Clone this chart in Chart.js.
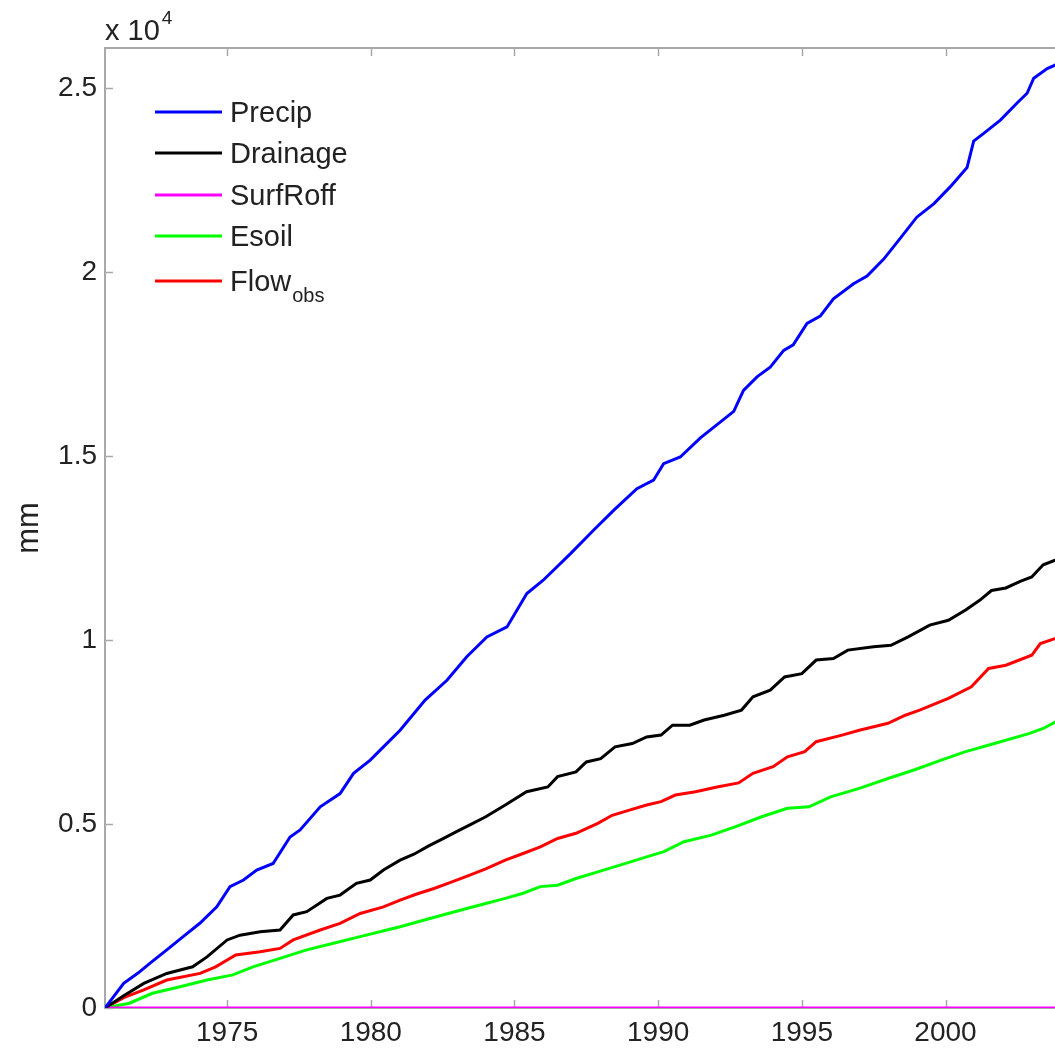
<!DOCTYPE html>
<html>
<head>
<meta charset="utf-8">
<script src="https://cdn.jsdelivr.net/npm/chart.js@4/dist/chart.umd.min.js"></script>
<style>
  html, body { margin: 0; padding: 0; background: #ffffff; overflow: hidden; }
  #wrap { position: relative; width: 1100px; height: 1049px; }
</style>
</head>
<body>
<div id="wrap"><canvas id="c" width="1100" height="1049"></canvas></div>
<script>
// Cumulative water balance terms (mm), water years from Oct 1970
const seriesNames = ['Precip', 'Drainage', 'SurfRoff', 'Esoil', 'Flow_obs'];
const seriesColors = ['#0000ff', '#000000', '#ff00ff', '#00ff00', '#ff0000'];

const precipYears = [1970.75, 1971.4, 1971.9, 1972.32, 1972.9, 1973.47, 1974.06, 1974.64, 1975.1, 1975.57,
  1976.03, 1976.6, 1977.19, 1977.54, 1978.24, 1978.93, 1979.4, 1979.98, 1980.44, 1981.02,
  1981.89, 1982.65, 1983.34, 1984.04, 1984.74, 1985.43, 1986.0, 1986.96, 1987.75, 1988.45,
  1989.26, 1989.84, 1990.19, 1990.77, 1991.47, 1992.05, 1992.63, 1992.97, 1993.44, 1993.9,
  1994.37, 1994.7, 1995.18, 1995.64, 1996.1, 1996.8, 1997.27, 1997.85, 1998.43, 1999.0,
  1999.6, 2000.17, 2000.75, 2000.98, 2001.33, 2001.91, 2002.5, 2002.84, 2003.07, 2003.54,
  2003.83, 2004.3, 2004.75];
const precipMm = [0, 670, 950, 1220, 1580, 1940, 2310, 2750, 3300, 3480,
  3750, 3930, 4650, 4840, 5470, 5830, 6380, 6740, 7100, 7550,
  8370, 8910, 9550, 10090, 10360, 11270, 11630, 12360, 12990, 13530,
  14120, 14350, 14800, 14980, 15500, 15860, 16220, 16790, 17160, 17420,
  17880, 18030, 18610, 18810, 19280, 19690, 19900, 20360, 20930, 21500,
  21870, 22330, 22850, 23570, 23780, 24140, 24610, 24870, 25280, 25540,
  25640, 25900, 26100];

const drainageYears = [1970.75, 1971.4, 1972.1, 1972.9, 1973.8, 1974.3, 1975.0, 1975.45, 1976.15, 1976.84,
  1977.3, 1977.77, 1978.47, 1978.93, 1979.5, 1979.98, 1980.44, 1981.02, 1981.5, 1982.0,
  1982.5, 1983.0, 1983.5, 1984.0, 1984.68, 1985.42, 1986.16, 1986.5, 1987.14, 1987.5,
  1988.0, 1988.5, 1989.1, 1989.6, 1990.1, 1990.5, 1991.1, 1991.6, 1992.3, 1992.9,
  1993.3, 1993.9, 1994.4, 1995.0, 1995.5, 1996.1, 1996.6, 1997.5, 1998.1, 1998.7,
  1999.45, 2000.1, 2000.7, 2001.2, 2001.6, 2002.1, 2002.6, 2003.0, 2003.4, 2003.83,
  2004.75];
const drainageMm = [0, 330, 670, 940, 1120, 1390, 1850, 1980, 2070, 2120,
  2530, 2620, 2980, 3070, 3390, 3480, 3750, 4020, 4180, 4400,
  4600, 4800, 5000, 5200, 5520, 5880, 6010, 6290, 6420, 6690,
  6780, 7100, 7190, 7370, 7420, 7690, 7690, 7830, 7960, 8100,
  8460, 8640, 9000, 9090, 9460, 9500, 9730, 9820, 9860, 10090,
  10410, 10540, 10820, 11090, 11350, 11420, 11600, 11720, 12050, 12180,
  12300];

const surfRoffYears = [1970.75, 1980, 1990, 2000, 2004.75];
const surfRoffMm = [0, 0, 0, 0, 0];

const esoilYears = [1970.75, 1971.6, 1972.4, 1973.36, 1974.3, 1975.2, 1975.9, 1976.84, 1977.77, 1978.7,
  1979.63, 1980.56, 1981.02, 1981.8, 1982.6, 1983.4, 1984.0, 1984.68, 1985.3, 1985.9,
  1986.5, 1987.14, 1987.9, 1988.7, 1989.6, 1990.2, 1990.9, 1991.85, 1992.7, 1993.6,
  1994.5, 1995.25, 1996.0, 1997.0, 1998.0, 1998.9, 1999.85, 2000.7, 2001.7, 2002.9,
  2003.4, 2003.83, 2004.75];
const esoilMm = [0, 130, 400, 580, 760, 900, 1120, 1350, 1580, 1760,
  1940, 2120, 2210, 2380, 2550, 2720, 2840, 2980, 3120, 3300,
  3340, 3520, 3700, 3890, 4110, 4250, 4520, 4700, 4930, 5200,
  5430, 5470, 5740, 5970, 6240, 6470, 6740, 6970, 7190, 7460,
  7600, 7780, 7950];

const flowObsYears = [1970.75, 1971.4, 1972.1, 1972.9, 1974.06, 1974.6, 1975.3, 1976.15, 1976.84, 1977.3,
  1978.24, 1978.93, 1979.63, 1980.44, 1981.02, 1981.6, 1982.2, 1982.8, 1983.4, 1984.0,
  1984.68, 1985.3, 1985.9, 1986.5, 1987.14, 1987.9, 1988.4, 1989.0, 1989.6, 1990.1,
  1990.6, 1991.3, 1992.05, 1992.8, 1993.3, 1994.0, 1994.5, 1995.1, 1995.5, 1996.4,
  1997.0, 1998.0, 1998.6, 1999.1, 2000.1, 2000.9, 2001.5, 2002.1, 2003.0, 2003.3,
  2003.83, 2004.75];
const flowObsMm = [0, 280, 490, 760, 940, 1120, 1440, 1530, 1620, 1850,
  2120, 2300, 2570, 2750, 2930, 3100, 3250, 3420, 3600, 3780,
  4020, 4200, 4380, 4610, 4750, 5020, 5240, 5380, 5520, 5610,
  5790, 5880, 6010, 6120, 6380, 6560, 6830, 6970, 7240, 7420,
  7550, 7740, 7960, 8100, 8420, 8730, 9230, 9320, 9590, 9910,
  10050, 10150];

// Axis ticks
const xTickYears = [1975, 1980, 1985, 1990, 1995, 2000];
const yTickValues = [0, 5000, 10000, 15000, 20000, 25000];
const xRange = [1970.75, 2004.75];
const yRange = [0, 26100];

const toPoints = (xs, ys) => xs.map((x, i) => ({ x: x, y: ys[i] }));
const seriesData = [
  toPoints(precipYears, precipMm),
  toPoints(drainageYears, drainageMm),
  toPoints(surfRoffYears, surfRoffMm),
  toPoints(esoilYears, esoilMm),
  toPoints(flowObsYears, flowObsMm)
];

const FONT = '"Liberation Sans", Arial, Helvetica, sans-serif';
const AXIS_COLOR = '#a9a9a9';
const TEXT_COLOR = '#222222';

// Axes box with inward tick marks, drawn beneath the curves
const framePlugin = {
  id: 'frame',
  beforeDatasetsDraw(chart) {
    const { ctx, chartArea: a, scales } = chart;
    const tl = 8;
    ctx.save();
    ctx.strokeStyle = AXIS_COLOR;
    ctx.lineWidth = 2;
    ctx.beginPath();
    ctx.moveTo(a.left, a.top);
    ctx.lineTo(a.right, a.top);
    ctx.lineTo(a.right, a.bottom);
    ctx.lineTo(a.left, a.bottom);
    ctx.closePath();
    ctx.stroke();
    ctx.lineWidth = 1.5;
    ctx.beginPath();
    scales.x.ticks.forEach(t => {
      const px = Math.round(scales.x.getPixelForValue(t.value)) + 0.5;
      ctx.moveTo(px, a.bottom); ctx.lineTo(px, a.bottom - tl);
      ctx.moveTo(px, a.top); ctx.lineTo(px, a.top + tl);
    });
    scales.y.ticks.forEach(t => {
      const py = Math.round(scales.y.getPixelForValue(t.value)) + 0.5;
      ctx.moveTo(a.left, py); ctx.lineTo(a.left + tl, py);
      ctx.moveTo(a.right, py); ctx.lineTo(a.right - tl, py);
    });
    ctx.stroke();
    ctx.restore();
  }
};

// Exponent note above the y axis and the legend entries
const annotatePlugin = {
  id: 'annotate',
  afterDraw(chart) {
    const { ctx, chartArea: a } = chart;
    ctx.save();
    ctx.fillStyle = TEXT_COLOR;
    ctx.textAlign = 'left';
    ctx.textBaseline = 'alphabetic';
    ctx.font = '29px ' + FONT;
    ctx.fillText('x 10', a.left, 40);
    const w = ctx.measureText('x 10').width;
    ctx.font = '19px ' + FONT;
    ctx.fillText('4', a.left + w + 2, 24);

    const rowY = [112, 153, 195, 236, 281];
    const x0 = 155, x1 = 222, tx = 230;
    chart.data.datasets.forEach((ds, i) => {
      const y = rowY[i];
      ctx.strokeStyle = ds.borderColor;
      ctx.lineWidth = 3;
      ctx.beginPath();
      ctx.moveTo(x0, y);
      ctx.lineTo(x1, y);
      ctx.stroke();
      const parts = seriesNames[i].split('_');
      ctx.fillStyle = TEXT_COLOR;
      ctx.font = '29px ' + FONT;
      ctx.fillText(parts[0], tx, y + 10);
      if (parts.length > 1) {
        const mw = ctx.measureText(parts[0]).width;
        ctx.font = '20px ' + FONT;
        ctx.fillText(parts[1], tx + mw + 1, y + 21);
      }
    });
    ctx.restore();
  }
};

new Chart(document.getElementById('c'), {
  type: 'line',
  data: {
    datasets: seriesNames.map((name, i) => ({
      label: name,
      data: seriesData[i],
      borderColor: seriesColors[i],
      backgroundColor: seriesColors[i],
      borderWidth: 3,
      pointRadius: 0,
      tension: 0,
      fill: false
    }))
  },
  options: {
    responsive: false,
    animation: false,
    devicePixelRatio: 1,
    layout: { padding: { top: 48, left: 0, right: 18, bottom: 0 } },
    plugins: {
      legend: { display: false },
      tooltip: { enabled: false },
      title: { display: false }
    },
    scales: {
      x: {
        type: 'linear',
        min: xRange[0],
        max: xRange[1],
        afterBuildTicks(scale) { scale.ticks = xTickYears.map(v => ({ value: v })); },
        afterFit(scale) { scale.height = 41; },
        grid: { display: false, drawTicks: false },
        border: { display: false },
        ticks: {
          callback: v => String(v),
          font: { family: FONT, size: 28 },
          color: TEXT_COLOR,
          padding: 8,
          maxRotation: 0,
          autoSkip: false
        }
      },
      y: {
        type: 'linear',
        min: yRange[0],
        max: yRange[1],
        afterBuildTicks(scale) { scale.ticks = yTickValues.map(v => ({ value: v })); },
        afterFit(scale) { scale.width = 105; },
        grid: { display: false, drawTicks: false },
        border: { display: false },
        ticks: {
          callback: v => String(v / 10000),
          font: { family: FONT, size: 28 },
          color: TEXT_COLOR,
          padding: 8
        },
        title: {
          display: true,
          text: 'mm',
          font: { family: FONT, size: 31 },
          color: TEXT_COLOR,
          padding: { top: 11, bottom: 0 }
        }
      }
    }
  },
  plugins: [framePlugin, annotatePlugin]
});
</script>
</body>
</html>
